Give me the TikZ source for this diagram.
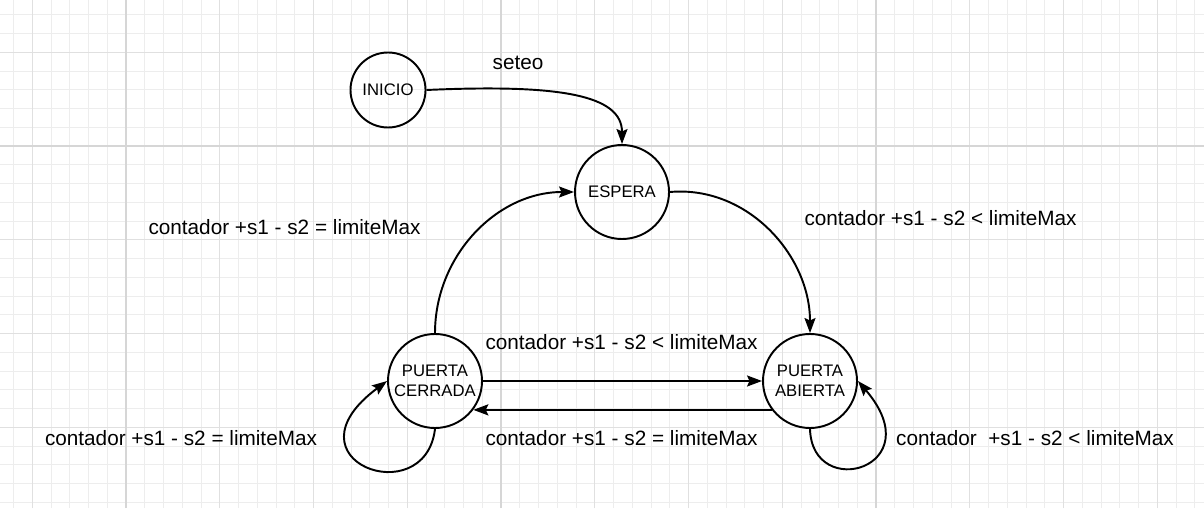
\documentclass[tikz,border=0pt]{standalone}
\usepackage{fontspec}
\setmainfont{Liberation Sans}
\usetikzlibrary{arrows.meta,positioning}
\definecolor{gridfaint}{HTML}{EDEDED}
\definecolor{gridmid}{HTML}{E0E0E0}
\definecolor{gridstrong}{HTML}{D6D6D6}

\begin{document}
\begin{tikzpicture}[
  state/.style={circle,draw,line width=1.1pt,minimum size=1.88cm,inner sep=0pt,
    align=center,font=\fontsize{9.5}{11.4}\selectfont},
  trans/.style={line width=1.1pt,-{Stealth[length=0.3cm,width=0.22cm,inset=0.05cm]}},
  cond/.style={font=\fontsize{11.8}{14}\selectfont,inner sep=0pt}
]
  \useasboundingbox (0,0) rectangle (24.08,10.16);
  \fill[white] (0,0) rectangle (24.08,10.16);
  % paper grid
  \foreach \k in {-6,...,57}
    \draw[gridfaint,line width=0.5pt] ({2.52+0.375*\k},0) -- ({2.52+0.375*\k},10.16);
  \foreach \k in {-7,...,19}
    \draw[gridfaint,line width=0.5pt] (0,{7.24-0.375*\k}) -- (24.08,{7.24-0.375*\k});
  \foreach \k in {-1,...,11}
    \draw[gridmid,line width=0.6pt] ({2.52+1.875*\k},0) -- ({2.52+1.875*\k},10.16);
  \foreach \k in {-1,...,3}
    \draw[gridmid,line width=0.6pt] (0,{7.24-1.875*\k}) -- (24.08,{7.24-1.875*\k});
  \foreach \k in {0,1,2}
    \draw[gridstrong,line width=0.7pt] ({2.52+7.5*\k},0) -- ({2.52+7.5*\k},10.16);
  \draw[gridstrong,line width=0.7pt] (0,7.24) -- (24.08,7.24);

  % states
  \node[state,minimum size=1.5cm] (inicio) at (7.76,8.36) {INICIO};
  \node[state] (espera) at (12.44,6.32) {ESPERA};
  \node[state] (cerrada) at (8.70,2.54) {PUERTA\\CERRADA};
  \node[state] (abierta) at (16.20,2.54) {PUERTA\\ABIERTA};

  % transitions
  \draw[trans] (inicio.east) .. controls (11.2,8.48) and (12.44,8.26) .. (espera.north);
  \draw[trans] (espera.east) to[out=5,in=90] (abierta.north);
  \draw[trans] (cerrada.north) to[out=90,in=180] (espera.west);
  \draw[trans] (cerrada.east) -- (abierta.west);
  \draw[trans] (abierta.217) -- (cerrada.323);
  \draw[trans] (cerrada.south) .. controls (8.5,-0.1) and (5.6,0.95) .. (cerrada.west);
  \draw[trans] (abierta.south) .. controls (16.24,0.12) and (18.65,0.8) .. (abierta.east);

  % conditions
  \node[cond] (seteo) at (10.36,8.9) {seteo};
  \node[cond] (condvuelta) at (5.69,5.62) {contador +s1 - s2 = limiteMax};
  \node[cond] (condabre) at (18.81,5.80) {contador +s1 - s2 < limiteMax};
  \node[cond] (condpaso) at (12.43,3.32) {contador +s1 - s2 < limiteMax};
  \node[cond] (condcierra) at (12.43,1.40) {contador +s1 - s2 = limiteMax};
  \node[cond] (condquieta) at (3.62,1.40) {contador +s1 - s2 = limiteMax};
  \node[cond] (condsigue) at (20.70,1.40) {contador\ \ +s1 - s2 < limiteMax};
\end{tikzpicture}
\end{document}
